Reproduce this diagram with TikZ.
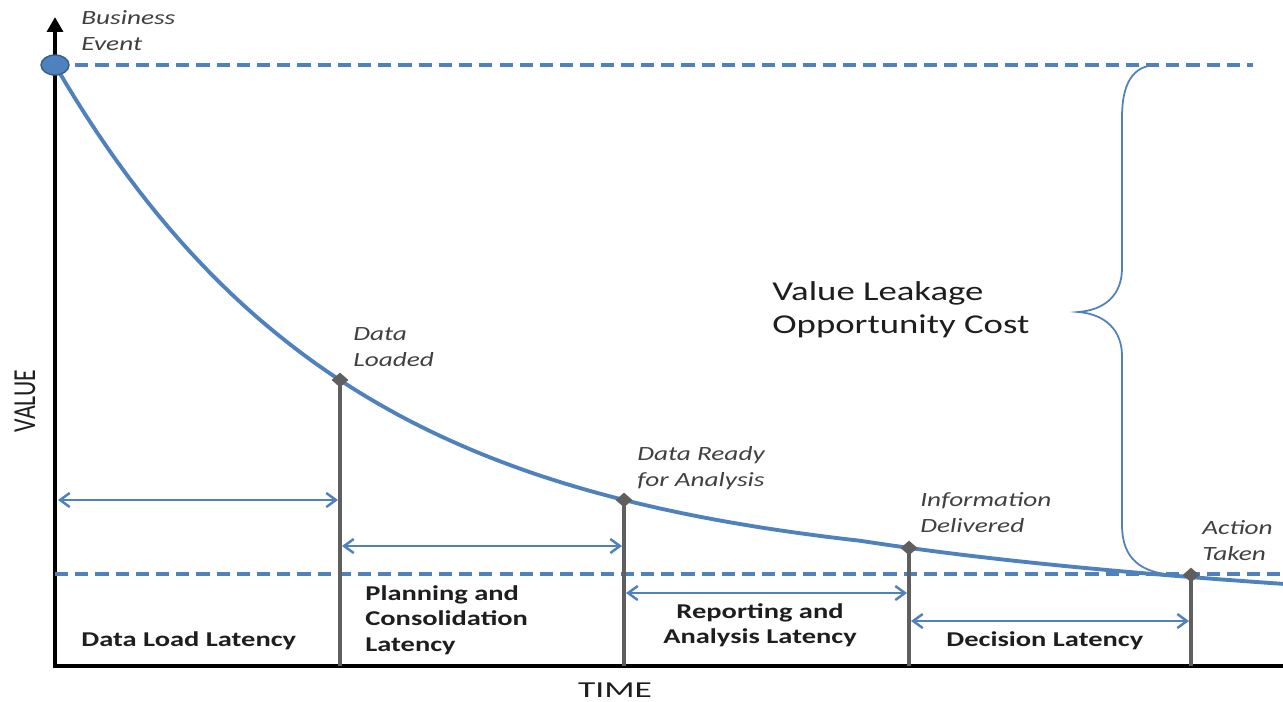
\documentclass[tikz,border=0pt]{standalone}
\usepackage{fontspec}
\usepackage{graphicx}
\setmainfont{Carlito}[FakeStretch=1.35]
\newfontfamily\axisfont{Carlito}
\usetikzlibrary{shapes.geometric, arrows.meta, positioning, calc}
\definecolor{leakblue}{HTML}{4F81BD}
\definecolor{leakedge}{HTML}{385D8A}
\definecolor{stemgray}{HTML}{5F5F5F}
\definecolor{tagtext}{HTML}{404040}
\definecolor{inkdark}{HTML}{1E1E1E}

\tikzset{
  stagetag/.style={anchor=north west, align=left, inner sep=0pt, text=tagtext, font=\fontsize{11.5}{15}\selectfont\itshape},
  latencytag/.style={inner sep=0pt, text=inkdark, font=\fontsize{12}{14.5}\selectfont\bfseries},
  milestone/.style={diamond, fill=stemgray, inner sep=0pt, minimum width=0.34cm, minimum height=0.3cm},
  stem/.style={stemgray, line width=2.2pt},
  spanarrow/.style={leakblue, line width=1.4pt, {Straight Barb[length=5.5pt,width=8pt]}-{Straight Barb[length=5.5pt,width=8pt]}},
  guide/.style={leakblue, line width=2.4pt, dash pattern=on 7.5pt off 4pt},
}

\begin{document}
\begin{tikzpicture}[x=0.02cm, y=-0.02cm]
  % Frame in pixel units
  \useasboundingbox (0,0) rectangle (1283,701);

  % Axes
  \coordinate (origin) at (55,666);
  \coordinate (ytop) at (55,17);
  \coordinate (xend) at (1295,666);
  \draw[black, line width=2.3pt, {Triangle[length=8.5pt,width=9pt]}-] (ytop) -- (origin) -- (xend);

  % Milestones on the decay curve
  \coordinate (event) at (55,65);
  \coordinate (loaded) at (340,380);
  \coordinate (ready) at (624,500);
  \coordinate (delivered) at (909,548);
  \coordinate (taken) at (1191,575);

  % Guide lines: value at event and value at action
  \coordinate (topguide) at (1253,65);
  \coordinate (baseleft) at (55,574);
  \coordinate (baseright) at (1295,574);
  \draw[guide] (event) -- (topguide);
  \draw[guide] (baseleft) -- (baseright);

  % Value decay curve
  \draw[leakblue, line width=2.2pt] plot[domain=55:1295, samples=120] (\x, {574-509*exp(-0.003386*(\x-55))+0.042*max(0,\x-860)});

  % Stems down to the time axis
  \draw[stem] (loaded) -- (loaded |- origin);
  \draw[stem] (ready) -- (ready |- origin);
  \draw[stem] (delivered) -- (delivered |- origin);
  \draw[stem] (taken) -- (taken |- origin);

  \node[ellipse, fill=leakblue, draw=leakedge, line width=0.8pt, inner sep=0pt, minimum width=0.56cm, minimum height=0.4cm] (eventdot) at (event) {};
  \node[milestone] (loadeddot) at (loaded) {};
  \node[milestone] (readydot) at (ready) {};
  \node[milestone] (delivereddot) at (delivered) {};
  \node[milestone] (takendot) at (taken) {};

  % Latency spans
  \coordinate (loadL) at (58,500);
  \coordinate (loadR) at (338,500);
  \coordinate (planL) at (342,546);
  \coordinate (planR) at (622,546);
  \coordinate (reportL) at (626,593);
  \coordinate (reportR) at (907,593);
  \coordinate (decideL) at (911,621);
  \coordinate (decideR) at (1189,621);
  \draw[spanarrow] (loadL) -- (loadR);
  \draw[spanarrow] (planL) -- (planR);
  \draw[spanarrow] (reportL) -- (reportR);
  \draw[spanarrow] (decideL) -- (decideR);

  % Brace for the leaked value
  \draw[leakblue, line width=1pt] (1157,65) .. controls (1132,65) and (1122,85) .. (1122,117)
    -- (1122,268) .. controls (1122,295) and (1105,310) .. (1078,312)
    .. controls (1105,314) and (1122,330) .. (1122,356)
    -- (1122,525) .. controls (1122,558) and (1140,574) .. (1178,575);

  % Milestone labels
  \node[stagetag] (eventtag) at (81,10) {Business\\Event};
  \node[stagetag] (loadedtag) at (353,327) {Data\\Loaded};
  \node[stagetag] (readytag) at (637,446) {Data Ready\\for Analysis};
  \node[stagetag] (deliveredtag) at (920,492) {Information\\Delivered};
  \node[stagetag] (takentag) at (1202,520) {Action\\Taken};

  % Leakage label
  \node[anchor=north west, align=left, inner sep=0pt, text=inkdark, font=\fontsize{15.5}{19}\selectfont] (leaktag) at (772,281) {Value Leakage\\Opportunity Cost};

  % Latency labels
  \node[latencytag, anchor=base west] (loadtag) at (81,646) {Data Load Latency};
  \node[latencytag, anchor=north west, align=left] (plantag) at (365,585) {Planning and\\Consolidation\\Latency};
  \node[latencytag, anchor=north, align=center] (reporttag) at (760,603) {Reporting and\\Analysis Latency};
  \node[latencytag, anchor=base west] (decidetag) at (946,646) {Decision Latency};

  % Axis titles
  \node[text=inkdark, inner sep=0pt] (timetag) at (615,690) {\scalebox{1.55}[1]{\axisfont\fontsize{13}{13}\selectfont TIME}};
  \node[text=inkdark, inner sep=0pt, rotate=90] (valuetag) at (25,401) {\scalebox{1}[1.35]{\axisfont\fontsize{13.5}{13.5}\selectfont VALUE}};
\end{tikzpicture}
\end{document}
